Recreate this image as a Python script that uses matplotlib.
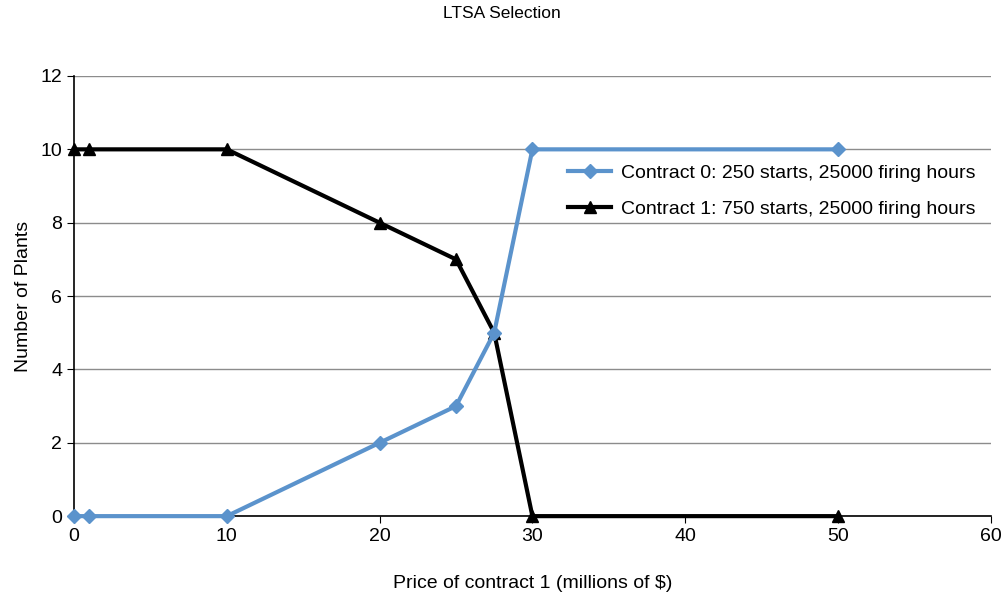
import matplotlib
matplotlib.use('Agg')
import matplotlib.pyplot as plt

# Price of contract 1 (millions of $) and number of plants choosing each contract
price = [0, 1, 10, 20, 25, 27.5, 30, 50]
contract0 = [0, 0, 0, 2, 3, 5, 10, 10]
contract1 = [10, 10, 10, 8, 7, 5, 0, 0]

plt.rcParams['font.family'] = ['Liberation Sans', 'DejaVu Sans']

fig = plt.figure(figsize=(10.03, 5.96), dpi=100)
ax = fig.add_axes([0.0738, 0.134, 0.914, 0.7385])

ax.plot(price, contract1, color='black', lw=3, marker='^', ms=8,
        label='Contract 1: 750 starts, 25000 firing hours', zorder=3, clip_on=False)
ax.plot(price, contract0, color='#5b93cc', lw=3, marker='D', ms=7,
        label='Contract 0: 250 starts, 25000 firing hours', zorder=4, clip_on=False)

ax.set_xlim(0, 60)
ax.set_ylim(0, 12)
ax.set_xticks(range(0, 61, 10))
ax.set_yticks(range(0, 13, 2))
ax.yaxis.grid(True, color='#8c8c8c', lw=1)
ax.set_axisbelow(True)
for s in ['top', 'right']:
    ax.spines[s].set_visible(False)
ax.spines['left'].set_linewidth(1.2)
ax.spines['bottom'].set_linewidth(1.2)
ax.tick_params(direction='out', length=5, labelsize=14)

ax.set_xlabel('Price of contract 1 (millions of $)', fontsize=14, labelpad=22)
ax.set_ylabel('Number of Plants', fontsize=14, labelpad=6)
fig.suptitle('LTSA Selection', fontsize=12.5, y=0.99)

h, l = ax.get_legend_handles_labels()
ax.legend(h[::-1], l[::-1], loc='upper left', bbox_to_anchor=(0.52, 0.84),
          frameon=False, fontsize=14, handlelength=2.2, labelspacing=0.95,
          handletextpad=0.5)

fig.savefig('out.png', dpi=100)
